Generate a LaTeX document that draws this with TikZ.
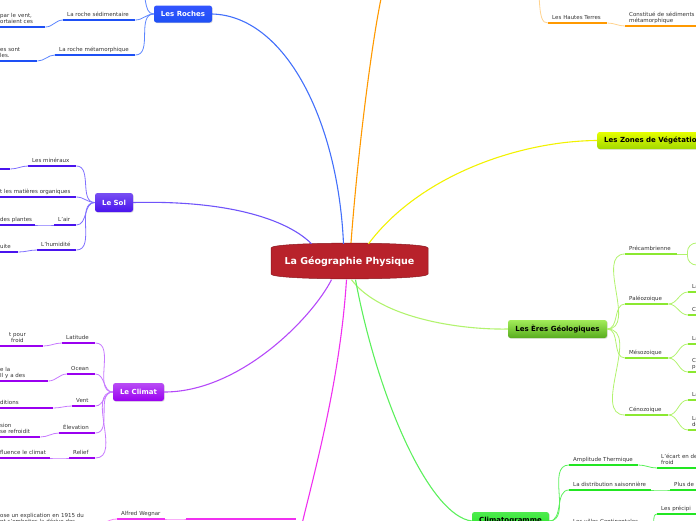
\documentclass[tikz,border=0pt]{standalone}
\usepackage{fontspec}
\setmainfont{DejaVu Sans}
\usetikzlibrary{shadows,calc}
\definecolor{txt}{HTML}{333333}
\definecolor{geored}{HTML}{B8222B}
\definecolor{bluec}{HTML}{5C85FF}
\definecolor{blueb}{HTML}{1E50F5}
\definecolor{solc}{HTML}{8070FF}
\definecolor{solb}{HTML}{4A14EE}
\definecolor{climc}{HTML}{C77AFF}
\definecolor{climb}{HTML}{9A00F0}
\definecolor{magc}{HTML}{F030F0}
\definecolor{orc}{HTML}{FFB23F}
\definecolor{orcl}{HTML}{FFD38F}
\definecolor{orb}{HTML}{FF9900}
\definecolor{yelc}{HTML}{F2F200}
\definecolor{grc}{HTML}{B2F36E}
\definecolor{grb}{HTML}{8BE830}
\definecolor{cgc}{HTML}{5CF05C}
\definecolor{cgb}{HTML}{22E622}
\renewcommand{\arraystretch}{0.92}
\newcommand\leaf[6]{%
  \pgfmathsetmacro\lw{#4-8}%
  \node[leafnode, text width=\lw pt] (#1) at (#2,#3) {\begin{tabular}{@{}l@{}}#6\end{tabular}};%
  \draw[bar=#5] (#1.south west) -- (#1.south east);}
\begin{document}
\begin{tikzpicture}[x=1pt,y=-1pt,
  leafnode/.style={anchor=south west, inner xsep=4pt, inner ysep=1.6pt, align=left,
    font=\fontsize{5.5}{6.6}\selectfont, text=txt},
  topic/.style={rounded corners=2.5pt, font=\bfseries\fontsize{7}{8}\selectfont, inner sep=0pt,
    drop shadow={shadow xshift=0.7pt, shadow yshift=-0.7pt, opacity=0.3}},
  conn/.style={line width=0.8pt, draw=#1},
  bar/.style={line width=2.4pt, draw=#1},
  main/.style={line width=1.1pt, draw=#1},
]
\useasboundingbox (0,0) rectangle (696,520);
\clip (0,0) rectangle (696,520);

% ---------- central node ----------
\fill[geored, draw=geored!75!black, line width=0.5pt] (271,248) .. controls (271,241.5) and (428,241.5) .. (428,248)
  -- (428,274) .. controls (428,280.5) and (271,280.5) .. (271,274) -- cycle;
\node[minimum width=157pt, minimum height=38pt, inner sep=0pt, text=white,
  font=\bfseries\fontsize{9.5}{11}\selectfont] (geo) at (349.5,261.5) {La Géographie Physique};

% ---------- topic nodes ----------
\node[topic, minimum width=58pt, minimum height=17pt, top color=blue!45!cyan!30!blue!80!white, bottom color=blueb, text=white] (roches) at (183,14) {Les Roches};
\node[topic, minimum width=38pt, minimum height=19pt, top color=solb!75!white, bottom color=solb, text=white] (sol) at (114,202.5) {Le Sol};
\node[topic, minimum width=51pt, minimum height=18pt, top color=climb!70!white, bottom color=climb, text=white] (climat) at (138.5,392) {Le Climat};
\node[topic, anchor=west, inner xsep=7pt, minimum height=17pt, top color=yellow!90!green, bottom color=yellow!75!green!85!black, text=black] (zones) at (597,140.5) {Les Zones de Végétation};
\node[topic, minimum width=99pt, minimum height=18pt, top color=grb!80!white, bottom color=grb!70!black!90!green, text=black] (eres) at (557.5,329) {Les Ères Géologiques};
\node[topic, minimum width=77pt, minimum height=18pt, top color=cgb!80!white, bottom color=cgb, text=black] (clim) at (510.5,521) {Climatogramme};

% ---------- main connectors ----------
\coordinate (otopm) at (382,-6);
\coordinate (mbot) at (301,528);
\draw[main=bluec!60!blueb] (roches.east) .. controls (285,16) and (338,120) .. ($(geo.north)+(-6,1.5)$);
\draw[main=solc!70!solb] (sol.east) .. controls (235,200) and (290,222) .. ($(geo.north)+(-38,1.5)$);
\draw[main=orb] ($(geo.north)+(1.5,0.5)$) .. controls (358,150) and (372,40) .. (otopm);
\draw[main=yelc] ($(geo.north)+(19,1.5)$) .. controls (420,175) and (520,141) .. (zones.west);
\draw[main=climc!60!climb] (climat.east) .. controls (240,392) and (312,318) .. ($(geo.south)+(-18,-1)$);
\draw[main=magc] ($(geo.south)+(-3,-1)$) .. controls (340,380) and (315,470) .. (mbot);
\draw[main=grc] ($(geo.south)+(2,-1)$) .. controls (380,318) and (460,330) .. (eres.west);
\draw[main=cgc] ($(geo.south)+(6,-1)$) .. controls (378,400) and (430,516) .. (clim.west);

% ---------- Les Roches ----------
\leaf{r1}{63}{20}{72}{blueb}{La roche sédimentaire}
\leaf{r1a}{-4}{27}{49}{blueb}{par le vent,\\ortaient ces\\ }
\leaf{r2}{55}{55}{80}{blueb}{La roche métamorphique}
\leaf{r2a}{-4}{61}{41}{blueb}{es sont\\les.}
\coordinate (rtop) at (137,-12);
\draw[conn=bluec] (roches.west) to[out=180,in=0] (rtop);
\draw[conn=bluec] (roches.west) to[out=180,in=0] (r1.south east);
\draw[conn=bluec] (roches.west) to[out=180,in=0] (r2.south east);
\draw[conn=bluec] (r1.south west) to[out=180,in=0] (r1a.south east);
\draw[conn=bluec] (r2.south west) to[out=180,in=0] (r2a.south east);

% ---------- Orange ----------
\leaf{o1}{548}{23}{59}{orb}{Les Hautes Terres}
\leaf{o1a}{625}{26}{80}{orb}{Constitué de sédiments\\métamorphique}
\coordinate (otop) at (539,-6);
\draw[conn=orcl] (otop) .. controls (540,18) and (542,23) .. (o1.south west);
\draw[conn=orcl] (o1.south east) to[out=0,in=180] (o1a.south west);

% ---------- Les Eres Geologiques ----------
\leaf{e1}{625}{254}{52}{grb}{Précambrienne}
\leaf{e2}{625}{304}{43}{grb}{Paléozoique}
\leaf{e3}{625}{358}{43}{grb}{Mésozoique}
\leaf{e4}{625}{415}{43}{grb}{Cénozoique}
\foreach \k in {e1,e2,e3,e4}{\draw[conn=grc] (eres.east) to[out=0,in=180] (\k.south west);}
\node[draw=grc, line width=0.8pt, rounded corners=9pt, minimum width=40pt, minimum height=22pt, anchor=west] (e1b) at (687,254) {};
\draw[conn=grc] (e1.south east) -- (e1b.west);
\leaf{e2a}{688}{292}{24}{grb}{La}
\leaf{e2b}{688}{315}{24}{grb}{C}
\leaf{e3a}{688}{344}{24}{grb}{La}
\leaf{e3b}{688}{372}{24}{grb}{C'\\pl}
\leaf{e4a}{688}{400}{24}{grb}{La}
\leaf{e4b}{688}{430}{24}{grb}{La\\de}
\draw[conn=grc] (e2.south east) to[out=0,in=180] (e2a.south west);
\draw[conn=grc] (e2.south east) to[out=0,in=180] (e2b.south west);
\draw[conn=grc] (e3.south east) to[out=0,in=180] (e3a.south west);
\draw[conn=grc] (e3.south east) to[out=0,in=180] (e3b.south west);
\draw[conn=grc] (e4.south east) to[out=0,in=180] (e4a.south west);
\draw[conn=grc] (e4.south east) to[out=0,in=180] (e4b.south west);

% ---------- Climatogramme ----------
\leaf{c1}{569}{465}{69}{cgb}{Amplitude Thermique}
\leaf{c1a}{657}{468}{50}{cgb}{L'écart en de\\froid}
\leaf{c2}{569}{490}{82}{cgb}{La distribution saisonnière}
\leaf{c2a}{670}{490}{40}{cgb}{Plus de}
\leaf{c3}{569}{527}{81}{cgb}{Les villes Continentales}
\leaf{c3a}{657}{514}{50}{cgb}{Les précipi}
\foreach \k in {c1,c2,c3}{\draw[conn=cgc] (clim.east) to[out=0,in=180] (\k.south west);}
\draw[conn=cgc] (c1.south east) to[out=0,in=180] (c1a.south west);
\draw[conn=cgc] (c2.south east) to[out=0,in=180] (c2a.south west);
\draw[conn=cgc] (c3.south east) to[out=0,in=180] (c3a.south west);

% ---------- Le Sol ----------
\leaf{s1}{28}{166}{48}{solb}{Les minéraux}
\leaf{s1a}{-4}{169}{14}{solb}{}
\leaf{s2}{-4}{197}{80}{solb}{t les matières organiques}
\leaf{s3}{54}{225}{22}{solb}{L'air}
\leaf{s3a}{-4}{225}{39}{solb}{des plantes}
\leaf{s4}{37}{250}{39}{solb}{L'humidité}
\leaf{s4a}{-4}{252}{22}{solb}{uite\\ }
\foreach \k in {s1,s2,s3,s4}{\draw[conn=solc] (sol.west) to[out=180,in=0] (\k.south east);}
\draw[conn=solc] (s1.south west) to[out=180,in=0] (s1a.south east);
\draw[conn=solc] (s3.south west) to[out=180,in=0] (s3a.south east);
\draw[conn=solc] (s4.south west) to[out=180,in=0] (s4a.south east);

% ---------- Le Climat ----------
\leaf{l1}{62}{343}{33}{climb}{Latitude}
\leaf{l1a}{-4}{346}{47}{climb}{\hspace*{9pt}t pour\\\hspace*{11pt}froid}
\leaf{l2}{67}{374}{28}{climb}{Ocean}
\leaf{l2a}{-4}{381}{52}{climb}{e la\\Il y a des\\ }
\leaf{l3}{72}{406}{23}{climb}{Vent}
\leaf{l3a}{-4}{408}{57}{climb}{ditions\\ }
\leaf{l4}{59}{433}{36}{climb}{Élevation}
\leaf{l4a}{-4}{437}{44}{climb}{sion\\se refroidit}
\leaf{l5}{69}{458}{26}{climb}{Relief}
\leaf{l5a}{-4}{458}{54}{climb}{fluence le climat}
\foreach \k in {l1,l2,l3,l4,l5}{\draw[conn=climc] (climat.west) to[out=180,in=0] (\k.south east);}
\foreach \a/\b in {l1/l1a,l2/l2a,l3/l3a,l4/l4a,l5/l5a}{\draw[conn=climc] (\a.south west) to[out=180,in=0] (\b.south east);}

% ---------- Magenta ----------
\leaf{mb}{186}{519}{110}{magc}{}
\leaf{aw}{117}{519}{48}{magc}{Alfred Wegnar}
\leaf{awl}{-4}{527}{95}{magc}{ose un explication en 1915 du\\nt s'emboites la dérive des\\ }
\draw[conn=magc!60!white] (mb.south west) to[out=180,in=0] (aw.south east);
\draw[conn=magc!60!white] (aw.south west) to[out=180,in=0] (awl.south east);
\end{tikzpicture}
\end{document}
